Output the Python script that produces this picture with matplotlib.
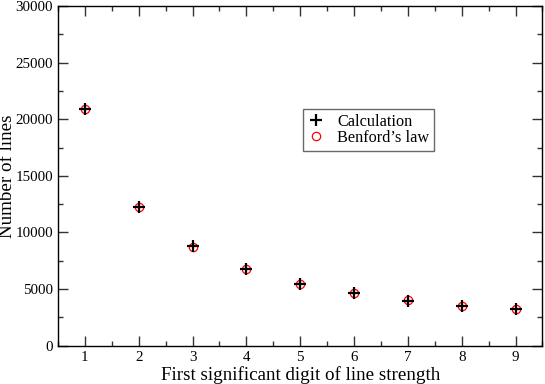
import matplotlib
matplotlib.use("Agg")
import matplotlib.pyplot as plt
from matplotlib.ticker import MultipleLocator

plt.rcParams['font.family'] = ['Liberation Serif', 'DejaVu Serif']

# first significant digit
digits = [1, 2, 3, 4, 5, 6, 7, 8, 9]
# number of lines
calculation = [20880, 12230, 8780, 6800, 5470, 4640, 3970, 3470, 3280]
benford = [20900, 12220, 8690, 6780, 5450, 4650, 4010, 3510, 3220]

fig = plt.figure(figsize=(5.45, 3.84), dpi=100)
ax = fig.add_axes([0.1064, 0.0997, 0.8890, 0.8847])

h_b, = ax.plot(digits, benford, 'o', mfc='none', mec='red', ms=6, mew=0.9,
               linestyle='none', label="Benford\u2019s law")
h_c, = ax.plot(digits, calculation, '+', color='black', ms=8, mew=1.6,
               linestyle='none', label="Calculation")

ax.set_xlim(0.5, 9.5)
ax.set_ylim(0, 30000)
ax.xaxis.set_major_locator(MultipleLocator(1))
ax.xaxis.set_minor_locator(MultipleLocator(0.5))
ax.yaxis.set_major_locator(MultipleLocator(5000))
ax.yaxis.set_minor_locator(MultipleLocator(2500))

ax.tick_params(which='both', direction='in', top=True, right=True,
               labelsize=10.8, color='#333333', width=1.0)
ax.tick_params(which='major', length=7)
ax.tick_params(which='minor', length=3.6)
for s in ax.spines.values():
    s.set_linewidth(1.0)

ax.set_xlabel("First significant digit of line strength", fontsize=13.7, labelpad=2)
ax.set_ylabel("Number of lines", fontsize=13.7)
ax.yaxis.set_label_coords(-0.086, 0.5)

leg = ax.legend(handles=[h_c, h_b], loc='upper left',
                bbox_to_anchor=(0.506, 0.697), borderaxespad=0,
                fontsize=11.7, frameon=True, fancybox=False,
                handlelength=1.0, handletextpad=0.8, borderpad=0.3,
                labelspacing=0.02)
leg.get_frame().set_edgecolor('#444444')
leg.get_frame().set_linewidth(1.0)

fig.savefig("out.png", dpi=100)
